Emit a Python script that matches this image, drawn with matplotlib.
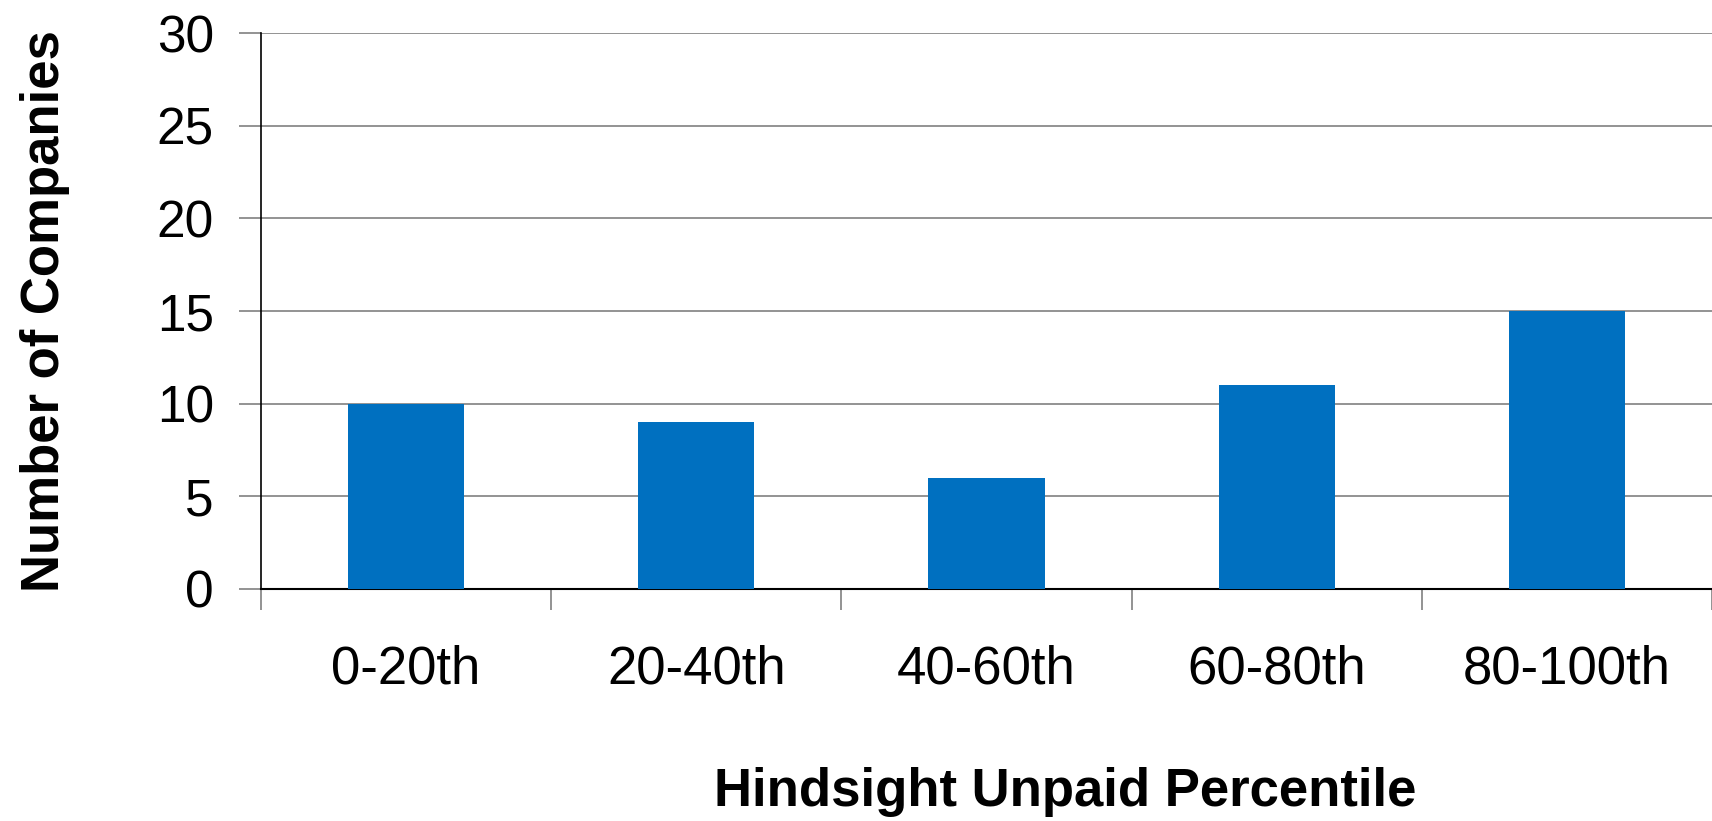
import matplotlib.pyplot as plt
import numpy as np

# Data
categories = ["0-20th", "20-40th", "40-60th", "60-80th", "80-100th"]
counts = [10, 9, 6, 11, 15]
yticks = [0, 5, 10, 15, 20, 25, 30]

plt.rcParams['font.family'] = ['Liberation Sans', 'DejaVu Sans']

fig = plt.figure(figsize=(17.12, 8.21), dpi=100)
ax = fig.add_axes([261 / 1712, 1 - 589 / 821, 1 - 261 / 1712, (589 - 33) / 821])

x = np.arange(len(categories))
ax.bar(x, counts, width=0.4, color="#0070C0", zorder=3)

ax.set_xlim(-0.5, len(categories) - 0.5)
ax.set_ylim(0, 30)
ax.set_yticks(yticks)
ax.yaxis.grid(True, color="#808080", linewidth=1.2, zorder=0)
ax.tick_params(axis="y", length=16, width=1.2, color="#808080", labelsize=37, pad=18)

ax.set_xticks(x)
ax.set_xticklabels(categories)
ax.tick_params(axis="x", which="major", length=0, labelsize=38, pad=40)
ax.set_xticks(np.arange(-0.5, len(categories)), minor=True)
ax.tick_params(axis="x", which="minor", length=15, width=1.2, color="#808080")

for side in ["top", "right"]:
    ax.spines[side].set_visible(False)
ax.spines["left"].set_linewidth(1.2)
ax.spines["bottom"].set_linewidth(1.5)

ax.set_ylabel("Number of Companies", fontsize=38, fontweight="bold")
ax.yaxis.set_label_coords((70 - 261) / 1451, 0.5)
ax.set_xlabel("Hindsight Unpaid Percentile", fontsize=38, fontweight="bold", va="center")
ax.xaxis.set_label_coords((1065 - 261) / 1451, -(792 - 589) / 556)

plt.savefig("out.png", dpi=100)
